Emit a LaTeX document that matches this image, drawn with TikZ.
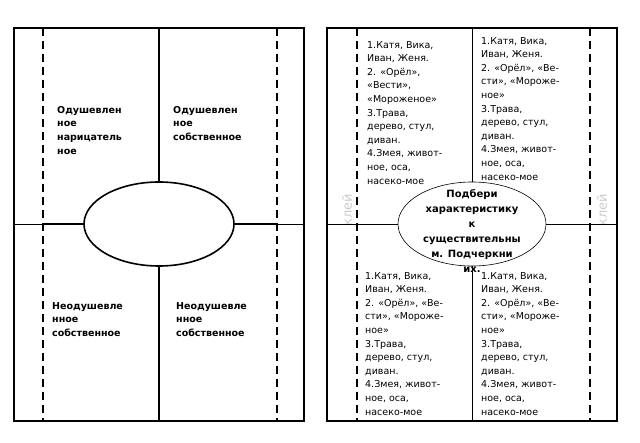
\documentclass[tikz,border=0pt]{standalone}
\usepackage{fontspec}
\setmainfont{DejaVu Sans}
\usetikzlibrary{shapes.geometric}
\tikzset{
 frame/.style={line width=1.6pt},
 thin/.style={line width=0.6pt},
 dashline/.style={line width=1.6pt,dash pattern=on 8pt off 5pt},
 txt/.style={anchor=north west,align=left,inner sep=0pt,font=\fontsize{9.5}{13.6}\selectfont},
 btxt/.style={txt,font=\fontsize{9.5}{13.6}\selectfont\bfseries},
 glue/.style={rotate=90,text=gray!40,font=\fontsize{13}{13}\selectfont}
}
\begin{document}
\begin{tikzpicture}[x=1pt,y=-1pt]
\useasboundingbox (0,0) rectangle (640,443);
% left panel
\draw[thin] (14,224) -- (304,224);
\draw[frame] (43,224) -- (84,224) (234,224) -- (277,224);
\draw[frame] (159,28) -- (159,421);
\node[ellipse,draw,frame,fill=white,minimum width=150pt,minimum height=84pt] (e1) at (159,224) {};
\draw[frame] (14,28) rectangle (304,421);
\draw[dashline] (43,28) -- (43,421);
\draw[dashline] (277,28) -- (277,421);
\node[btxt] (a1) at (57,106) {Одушевлен\\ное\\нарицатель\\ное};
\node[btxt] (a2) at (173,106) {Одушевлен\\ное\\собственное};
\node[btxt] (a3) at (52,302) {Неодушевле\\нное\\собственное};
\node[btxt] (a4) at (176,302) {Неодушевле\\нное\\собственное};
% right panel
\node[glue] (g1) at (347,210) {клей};
\node[glue] (g2) at (602,210) {клей};
\draw[thin] (327,224) -- (617,224);
\draw[thin] (472,28) -- (472,421);
\draw[frame] (327,28) rectangle (617,421);
\draw[dashline] (357,28) -- (357,421);
\draw[dashline] (590,28) -- (590,421);
\node[txt] (b1) at (367,41) {1.Катя, Вика,\\Иван, Женя.\\2. «Орёл»,\\«Вести»,\\«Мороженое»\\3.Трава,\\дерево, стул,\\диван.\\4.Змея, живот-\\ное, оса,\\насеко-мое};
\node[txt] (b2) at (481,37) {1.Катя, Вика,\\Иван, Женя.\\2. «Орёл», «Ве-\\сти», «Мороже-\\ное»\\3.Трава,\\дерево, стул,\\диван.\\4.Змея, живот-\\ное, оса,\\насеко-мое};
\node[ellipse,draw,thin,fill=white,minimum width=148pt,minimum height=84pt] (e2) at (472,224) {};
\node[align=center,inner sep=0pt,font=\fontsize{10}{15}\selectfont\bfseries,anchor=north] (q) at (472,189) {Подбери\\характеристику\\к\\существительны\\м. Подчеркни\\их.};
\node[txt] (b3) at (365,272) {1.Катя, Вика,\\Иван, Женя.\\2. «Орёл», «Ве-\\сти», «Мороже-\\ное»\\3.Трава,\\дерево, стул,\\диван.\\4.Змея, живот-\\ное, оса,\\насеко-мое};
\node[txt] (b4) at (481,272) {1.Катя, Вика,\\Иван, Женя.\\2. «Орёл», «Ве-\\сти», «Мороже-\\ное»\\3.Трава,\\дерево, стул,\\диван.\\4.Змея, живот-\\ное, оса,\\насеко-мое};
\end{tikzpicture}
\end{document}
